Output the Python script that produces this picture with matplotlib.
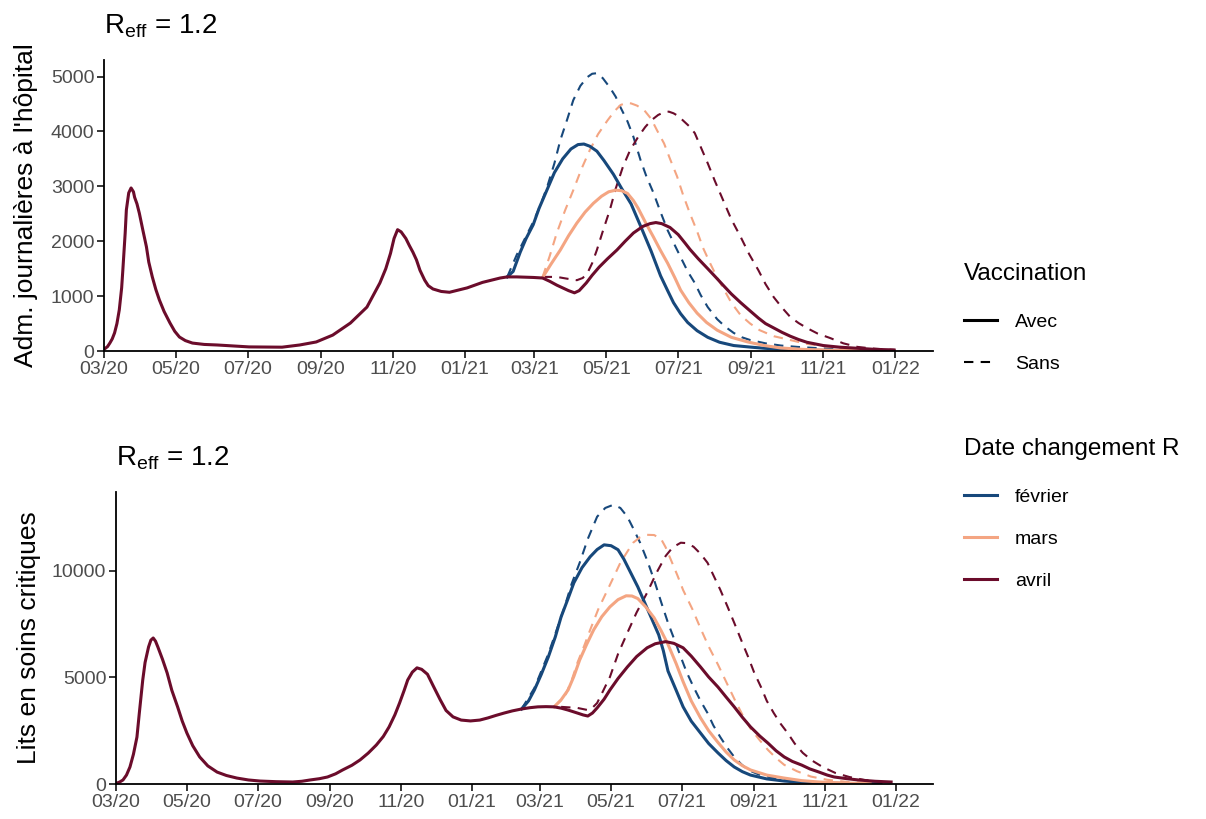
import matplotlib
matplotlib.use("Agg")
import matplotlib.dates as mdates
import numpy as np
from matplotlib import pyplot as plt
from matplotlib.lines import Line2D

plt.rcParams['font.family'] = ['Liberation Sans', 'DejaVu Sans']

# --- colours / labels -------------------------------------------------------
scenario_names 	= ['février', 'mars', 'avril']
scenario_colors = ['#17487b', '#f4a582', '#6b0c2b']
vaccin_labels 	= ['Avec', 'Sans']

# --- panel 1 : admissions journalières à l'hôpital ---------------------------
adm_avril_avec_dates = [
	'2020-03-01', '2020-03-04', '2020-03-06', '2020-03-08', '2020-03-10', '2020-03-12',
	'2020-03-14', '2020-03-16', '2020-03-17', '2020-03-19', '2020-03-20', '2020-03-22',
	'2020-03-24', '2020-03-26', '2020-03-27', '2020-03-29', '2020-03-31', '2020-04-03',
	'2020-04-06', '2020-04-08', '2020-04-11', '2020-04-14', '2020-04-17', '2020-04-21',
	'2020-04-26', '2020-04-30', '2020-05-04', '2020-05-09', '2020-05-15', '2020-05-25',
	'2020-06-05', '2020-07-02', '2020-07-30', '2020-08-14', '2020-08-28', '2020-09-11',
	'2020-09-26', '2020-10-10', '2020-10-21', '2020-10-26', '2020-10-30', '2020-11-02',
	'2020-11-05', '2020-11-08', '2020-11-12', '2020-11-15', '2020-11-18', '2020-11-21',
	'2020-11-24', '2020-11-28', '2020-12-01', '2020-12-05', '2020-12-12', '2020-12-19',
	'2021-01-03', '2021-01-16', '2021-01-31', '2021-02-06', '2021-02-14', '2021-02-28',
	'2021-03-08', '2021-03-14', '2021-03-20', '2021-03-25', '2021-03-30', '2021-04-04',
	'2021-04-08', '2021-04-14', '2021-04-19', '2021-04-25', '2021-05-02', '2021-05-10',
	'2021-05-17', '2021-05-24', '2021-06-01', '2021-06-07', '2021-06-12', '2021-06-17',
	'2021-06-24', '2021-07-01', '2021-07-07', '2021-07-11', '2021-07-18', '2021-07-26',
	'2021-08-02', '2021-08-08', '2021-08-15', '2021-08-23', '2021-08-31', '2021-09-07',
	'2021-09-13', '2021-09-20', '2021-09-27', '2021-10-04', '2021-10-11', '2021-10-18',
	'2021-11-01', '2021-11-15', '2021-11-30', '2021-12-15', '2021-12-31']
adm_avril_avec = [
	30, 80, 145, 220, 330, 500,
	750, 1150, 1470, 2150, 2570, 2880,
	2970, 2900, 2800, 2680, 2510, 2200,
	1900, 1620, 1350, 1120, 930, 720,
	510, 360, 255, 190, 145, 120,
	110, 75, 70, 110, 165, 290,
	510, 800, 1240, 1500, 1780, 2050,
	2210, 2170, 2050, 1920, 1800, 1660,
	1470, 1290, 1190, 1130, 1085, 1070,
	1150, 1250, 1330, 1350, 1350, 1340,
	1330, 1270, 1200, 1150, 1100, 1060,
	1100, 1240, 1380, 1530, 1680, 1840,
	2000, 2150, 2270, 2320, 2340, 2320,
	2250, 2120, 1960, 1850, 1680, 1500,
	1340, 1200, 1040, 880, 730, 600,
	500, 420, 340, 270, 210, 160,
	100, 70, 50, 30, 20]

adm_fev_avec_dates = [
	'2021-02-06', '2021-02-11', '2021-02-17', '2021-02-22', '2021-02-28', '2021-03-05',
	'2021-03-12', '2021-03-18', '2021-03-25', '2021-04-01', '2021-04-07', '2021-04-12',
	'2021-04-17', '2021-04-23', '2021-04-29', '2021-05-07', '2021-05-14', '2021-05-22',
	'2021-05-30', '2021-06-08', '2021-06-16', '2021-06-22', '2021-06-27', '2021-07-03',
	'2021-07-09', '2021-07-17', '2021-07-26', '2021-08-05', '2021-08-17', '2021-09-01',
	'2021-09-12', '2021-10-01', '2021-10-18', '2021-12-31']
adm_fev_avec = [
	1350, 1450, 1800, 2050, 2300, 2600,
	2950, 3250, 3500, 3680, 3760, 3770,
	3730, 3640, 3470, 3220, 2960, 2680,
	2280, 1820, 1370, 1100, 880, 680,
	520, 370, 250, 160, 100, 70,
	50, 25, 15, 3]

adm_mars_avec_dates = [
	'2021-03-08', '2021-03-15', '2021-03-23', '2021-03-30', '2021-04-06', '2021-04-13',
	'2021-04-20', '2021-04-27', '2021-05-03', '2021-05-09', '2021-05-14', '2021-05-19',
	'2021-05-24', '2021-05-28', '2021-06-03', '2021-06-10', '2021-06-16', '2021-06-22',
	'2021-06-28', '2021-07-03', '2021-07-10', '2021-07-17', '2021-07-25', '2021-08-03',
	'2021-08-15', '2021-08-29', '2021-09-12', '2021-09-26', '2021-10-15', '2021-11-07',
	'2021-12-31']
adm_mars_avec = [
	1340, 1580, 1840, 2100, 2330, 2530,
	2690, 2820, 2900, 2930, 2920, 2870,
	2740, 2600, 2350, 2075, 1830, 1600,
	1340, 1110, 880, 690, 520, 380,
	250, 165, 100, 55, 30, 15,
	3]

adm_fev_sans_dates = [
	'2021-02-06', '2021-02-14', '2021-02-21', '2021-02-28', '2021-03-06', '2021-03-12',
	'2021-03-18', '2021-03-23', '2021-03-29', '2021-04-03', '2021-04-09', '2021-04-15',
	'2021-04-19', '2021-04-23', '2021-04-28', '2021-05-04', '2021-05-09', '2021-05-13',
	'2021-05-19', '2021-05-24', '2021-05-30', '2021-06-04', '2021-06-10', '2021-06-16',
	'2021-06-22', '2021-06-28', '2021-07-03', '2021-07-09', '2021-07-15', '2021-07-20',
	'2021-07-26', '2021-08-03', '2021-08-10', '2021-08-17', '2021-08-24', '2021-08-31',
	'2021-09-13', '2021-09-26', '2021-10-10', '2021-10-29', '2021-11-20', '2021-12-28']
adm_fev_sans = [
	1350, 1750, 2050, 2350, 2650, 3000,
	3420, 3840, 4230, 4570, 4830, 4990,
	5050, 5060, 4970, 4800, 4630, 4440,
	4180, 3900, 3480, 3180, 2880, 2530,
	2200, 1930, 1710, 1450, 1240, 1020,
	800, 580, 440, 330, 250, 200,
	140, 100, 75, 50, 30, 15]

adm_mars_sans_dates = [
	'2021-03-08', '2021-03-14', '2021-03-20', '2021-03-27', '2021-04-03', '2021-04-10',
	'2021-04-17', '2021-04-24', '2021-05-02', '2021-05-08', '2021-05-13', '2021-05-18',
	'2021-05-22', '2021-05-27', '2021-06-02', '2021-06-08', '2021-06-13', '2021-06-19',
	'2021-06-24', '2021-06-30', '2021-07-05', '2021-07-11', '2021-07-17', '2021-07-22',
	'2021-07-28', '2021-08-02', '2021-08-08', '2021-08-15', '2021-08-23', '2021-08-31',
	'2021-09-08', '2021-09-20', '2021-10-04', '2021-10-18', '2021-11-01', '2021-11-15',
	'2021-12-02', '2022-01-01']
adm_mars_sans = [
	1350, 1730, 2150, 2560, 2930, 3320,
	3660, 3950, 4200, 4370, 4480, 4520,
	4510, 4470, 4390, 4230, 4020, 3780,
	3500, 3180, 2850, 2500, 2180, 1880,
	1600, 1380, 1150, 880, 650, 500,
	380, 270, 200, 130, 90, 60,
	35, 10]

adm_avril_sans_dates = [
	'2021-03-08', '2021-03-20', '2021-03-28', '2021-04-06', '2021-04-11', '2021-04-15',
	'2021-04-19', '2021-04-23', '2021-04-28', '2021-05-04', '2021-05-09', '2021-05-15',
	'2021-05-21', '2021-05-28', '2021-06-03', '2021-06-08', '2021-06-14', '2021-06-19',
	'2021-06-23', '2021-06-27', '2021-07-01', '2021-07-05', '2021-07-10', '2021-07-15',
	'2021-07-20', '2021-07-26', '2021-08-01', '2021-08-08', '2021-08-15', '2021-08-23',
	'2021-08-30', '2021-09-07', '2021-09-13', '2021-09-20', '2021-09-27', '2021-10-04',
	'2021-10-11', '2021-10-18', '2021-10-27', '2021-11-07', '2021-11-18', '2021-11-30',
	'2021-12-13', '2021-12-31']
adm_avril_sans = [
	1350, 1350, 1320, 1290, 1330, 1420,
	1600, 1840, 2180, 2570, 2960, 3350,
	3650, 3900, 4080, 4200, 4300, 4350,
	4360, 4330, 4280, 4200, 4100, 3970,
	3720, 3420, 3100, 2750, 2400, 2075,
	1770, 1470, 1220, 980, 790, 620,
	510, 420, 320, 235, 140, 75,
	45, 20]

# --- panel 2 : lits en soins critiques ---------------------------------------
lits_avril_avec_dates = [
	'2020-03-01', '2020-03-04', '2020-03-07', '2020-03-10', '2020-03-13', '2020-03-16',
	'2020-03-19', '2020-03-21', '2020-03-24', '2020-03-26', '2020-03-29', '2020-03-31',
	'2020-04-02', '2020-04-04', '2020-04-06', '2020-04-10', '2020-04-14', '2020-04-18',
	'2020-04-23', '2020-04-27', '2020-05-01', '2020-05-06', '2020-05-12', '2020-05-19',
	'2020-05-27', '2020-06-04', '2020-06-13', '2020-06-23', '2020-07-03', '2020-07-17',
	'2020-07-31', '2020-08-08', '2020-08-15', '2020-08-23', '2020-08-30', '2020-09-06',
	'2020-09-12', '2020-09-20', '2020-09-27', '2020-10-04', '2020-10-11', '2020-10-17',
	'2020-10-22', '2020-10-27', '2020-10-31', '2020-11-04', '2020-11-07', '2020-11-11',
	'2020-11-15', '2020-11-19', '2020-11-24', '2020-11-29', '2020-12-05', '2020-12-10',
	'2020-12-16', '2020-12-23', '2020-12-31', '2021-01-08', '2021-01-15', '2021-01-22',
	'2021-01-29', '2021-02-05', '2021-02-13', '2021-02-20', '2021-02-27', '2021-03-06',
	'2021-03-13', '2021-03-19', '2021-03-25', '2021-04-02', '2021-04-07', '2021-04-11',
	'2021-04-15', '2021-04-19', '2021-04-25', '2021-04-30', '2021-05-07', '2021-05-15',
	'2021-05-23', '2021-06-01', '2021-06-08', '2021-06-17', '2021-06-24', '2021-07-02',
	'2021-07-09', '2021-07-17', '2021-07-24', '2021-08-01', '2021-08-08', '2021-08-15',
	'2021-08-22', '2021-08-29', '2021-09-06', '2021-09-13', '2021-09-20', '2021-09-27',
	'2021-10-04', '2021-10-12', '2021-10-19', '2021-10-27', '2021-11-03', '2021-11-09',
	'2021-11-20', '2021-11-30', '2021-12-14', '2021-12-28']
lits_avril_avec = [
	30, 90, 190, 420, 800, 1400,
	2200, 3300, 4880, 5700, 6430, 6750,
	6850, 6700, 6430, 5850, 5210, 4400,
	3620, 2950, 2390, 1800, 1270, 850,
	560, 400, 280, 190, 140, 110,
	95, 130, 190, 250, 330, 480,
	660, 880, 1130, 1450, 1830, 2230,
	2680, 3250, 3800, 4400, 4880, 5250,
	5450, 5380, 5150, 4600, 3950, 3450,
	3150, 3000, 2960, 3000, 3100, 3220,
	3330, 3430, 3520, 3580, 3620, 3630,
	3620, 3560, 3470, 3330, 3240, 3190,
	3330, 3570, 3980, 4410, 4950, 5490,
	5980, 6390, 6580, 6680, 6600, 6390,
	6000, 5490, 5020, 4550, 4080, 3620,
	3130, 2680, 2250, 1920, 1560, 1270,
	1060, 890, 710, 560, 420, 330,
	250, 190, 130, 95]

lits_fev_avec_dates = [
	'2021-02-13', '2021-02-19', '2021-02-24', '2021-03-02', '2021-03-08', '2021-03-14',
	'2021-03-19', '2021-03-25', '2021-03-30', '2021-04-06', '2021-04-13', '2021-04-19',
	'2021-04-25', '2021-05-01', '2021-05-07', '2021-05-12', '2021-05-18', '2021-05-24',
	'2021-05-30', '2021-06-05', '2021-06-11', '2021-06-15', '2021-06-19', '2021-06-26',
	'2021-07-02', '2021-07-09', '2021-07-17', '2021-07-24', '2021-08-01', '2021-08-08',
	'2021-08-15', '2021-08-22', '2021-08-29', '2021-09-12', '2021-09-27', '2021-10-12',
	'2021-10-27', '2021-11-20', '2021-12-19']
lits_fev_avec = [
	3520, 3900, 4410, 5150, 5960, 6900,
	7840, 8700, 9440, 10150, 10660, 11000,
	11220, 11180, 10990, 10550, 9900, 9250,
	8500, 7750, 7000, 6250, 5300, 4400,
	3620, 2950, 2390, 1900, 1460, 1100,
	800, 580, 420, 240, 140, 80,
	50, 25, 10]

lits_mars_avec_dates = [
	'2021-03-13', '2021-03-19', '2021-03-25', '2021-03-30', '2021-04-04', '2021-04-10',
	'2021-04-16', '2021-04-23', '2021-04-30', '2021-05-07', '2021-05-14', '2021-05-19',
	'2021-05-24', '2021-05-31', '2021-06-07', '2021-06-13', '2021-06-19', '2021-06-26',
	'2021-07-02', '2021-07-09', '2021-07-17', '2021-07-24', '2021-08-01', '2021-08-08',
	'2021-08-15', '2021-08-22', '2021-08-29', '2021-09-12', '2021-09-27', '2021-10-12',
	'2021-10-27', '2021-11-20', '2021-12-10']
lits_mars_avec = [
	3620, 3950, 4410, 5050, 5820, 6550,
	7230, 7850, 8310, 8650, 8830, 8820,
	8700, 8300, 7800, 7200, 6550, 5650,
	4800, 3900, 3100, 2500, 1950, 1500,
	1130, 860, 660, 420, 280, 160,
	95, 45, 20]

lits_fev_sans_dates = [
	'2021-02-13', '2021-02-24', '2021-03-08', '2021-03-15', '2021-03-22', '2021-03-28',
	'2021-04-04', '2021-04-11', '2021-04-19', '2021-04-26', '2021-05-03', '2021-05-09',
	'2021-05-15', '2021-05-20', '2021-05-26', '2021-06-01', '2021-06-07', '2021-06-13',
	'2021-06-19', '2021-06-25', '2021-06-30', '2021-07-05', '2021-07-11', '2021-07-17',
	'2021-07-23', '2021-07-28', '2021-08-03', '2021-08-09', '2021-08-15', '2021-08-21',
	'2021-08-27', '2021-09-05', '2021-09-18', '2021-10-01', '2021-10-17', '2021-11-10',
	'2021-12-10']
lits_fev_sans = [
	3520, 4500, 6100, 7200, 8310, 9380,
	10380, 11500, 12540, 12950, 13100, 12950,
	12540, 12000, 11320, 10500, 9580, 8550,
	7560, 6700, 5960, 5250, 4550, 3900,
	3330, 2750, 2200, 1700, 1270, 930,
	660, 450, 280, 170, 95, 40,
	15]

lits_mars_sans_dates = [
	'2021-03-13', '2021-03-22', '2021-03-28', '2021-04-02', '2021-04-08', '2021-04-13',
	'2021-04-20', '2021-04-28', '2021-05-04', '2021-05-09', '2021-05-15', '2021-05-20',
	'2021-05-26', '2021-06-01', '2021-06-07', '2021-06-13', '2021-06-17', '2021-06-22',
	'2021-06-27', '2021-07-02', '2021-07-10', '2021-07-17', '2021-07-24', '2021-08-01',
	'2021-08-08', '2021-08-15', '2021-08-22', '2021-08-29', '2021-09-06', '2021-09-13',
	'2021-09-20', '2021-09-27', '2021-10-08', '2021-10-20', '2021-11-03', '2021-11-20',
	'2021-12-28']
lits_mars_sans = [
	3620, 4080, 4850, 5680, 6500, 7230,
	8200, 9110, 9800, 10380, 10900, 11320,
	11580, 11690, 11680, 11500, 11100, 10450,
	9800, 9100, 8200, 7300, 6450, 5600,
	4800, 4000, 3250, 2600, 2050, 1600,
	1220, 900, 600, 350, 200, 100,
	15]

lits_avril_sans_dates = [
	'2021-03-19', '2021-04-02', '2021-04-11', '2021-04-15', '2021-04-19', '2021-04-24',
	'2021-04-30', '2021-05-07', '2021-05-15', '2021-05-23', '2021-06-01', '2021-06-06',
	'2021-06-10', '2021-06-17', '2021-06-23', '2021-06-30', '2021-07-05', '2021-07-11',
	'2021-07-17', '2021-07-23', '2021-07-28', '2021-08-03', '2021-08-09', '2021-08-15',
	'2021-08-21', '2021-08-27', '2021-09-01', '2021-09-07', '2021-09-12', '2021-09-18',
	'2021-09-24', '2021-09-30', '2021-10-06', '2021-10-13', '2021-10-21', '2021-10-30',
	'2021-11-10', '2021-11-22', '2021-12-05', '2021-12-21']
lits_avril_sans = [
	3620, 3570, 3470, 3580, 3800, 4350,
	5020, 6100, 7090, 8050, 8970, 9550,
	10000, 10700, 11100, 11320, 11300, 11130,
	10800, 10380, 9800, 9110, 8350, 7560,
	6750, 5960, 5250, 4550, 3900, 3330,
	2820, 2390, 1900, 1460, 1100, 800,
	520, 330, 190, 95]

panels = [
	{
		'ylabel': "Adm. journalières à l'hôpital",
		'yticks': [0, 1000, 2000, 3000, 4000, 5000],
		'ymax': 5300,
		'pos': [0.0862, 0.5714, 0.6874, 0.3553],
		'labelpad': 9,
		'avec': [(adm_fev_avec_dates, adm_fev_avec), (adm_mars_avec_dates, adm_mars_avec),
				 (adm_avril_avec_dates, adm_avril_avec)],
		'sans': [(adm_fev_sans_dates, adm_fev_sans), (adm_mars_sans_dates, adm_mars_sans),
				 (adm_avril_sans_dates, adm_avril_sans)],
	},
	{
		'ylabel': "Lits en soins critiques",
		'yticks': [0, 5000, 10000],
		'ymax': 13700,
		'pos': [0.0962, 0.0427, 0.6774, 0.3566],
		'labelpad': 8,
		'avec': [(lits_fev_avec_dates, lits_fev_avec), (lits_mars_avec_dates, lits_mars_avec),
				 (lits_avril_avec_dates, lits_avril_avec)],
		'sans': [(lits_fev_sans_dates, lits_fev_sans), (lits_mars_sans_dates, lits_mars_sans),
				 (lits_avril_sans_dates, lits_avril_sans)],
	},
]

fig = plt.figure(figsize=(12.06, 8.19), dpi=100)

for p in panels:
	ax = fig.add_axes(p['pos'])
	for (d, v), col in zip(p['sans'], scenario_colors):
		ax.plot(np.array(d, dtype='datetime64[D]'), v, color=col, lw=1.5,
				ls=(0, (4.5, 3.5)), solid_joinstyle='round')
	for (d, v), col in zip(p['avec'], scenario_colors):
		ax.plot(np.array(d, dtype='datetime64[D]'), v, color=col, lw=2.2,
				solid_joinstyle='round')

	ax.set_xlim(np.datetime64('2020-03-01'), np.datetime64('2022-02-02'))
	ax.set_ylim(0, p['ymax'])
	ax.set_yticks(p['yticks'])
	ax.xaxis.set_major_locator(mdates.MonthLocator(bymonth=[1, 3, 5, 7, 9, 11]))
	ax.xaxis.set_major_formatter(mdates.DateFormatter('%m/%y'))
	for s in ['top', 'right']:
		ax.spines[s].set_visible(False)
	for s in ['left', 'bottom']:
		ax.spines[s].set_linewidth(1.3)
	ax.tick_params(length=5, width=1.1, labelsize=14, labelcolor='#4d4d4d', pad=2)
	ax.set_ylabel(p['ylabel'], fontsize=19, labelpad=p['labelpad'])
	ax.set_title(r'$\mathregular{R_{eff}}$ = 1.2', loc='left', fontsize=20, pad=19)

# legends
vac_handles = [Line2D([], [], color='black', lw=2.2),
			   Line2D([], [], color='black', lw=1.5, ls=(0, (4.5, 3.5)))]
leg1 = fig.legend(vac_handles, vaccin_labels, title='Vaccination', loc='upper left',
				  bbox_to_anchor=(0.785, 0.700), frameon=False, fontsize=14,
				  title_fontsize=17.5, handlelength=1.7, labelspacing=1.25,
				  alignment='left', handletextpad=0.9)
sc_handles = [Line2D([], [], color=c, lw=2.2) for c in scenario_colors]
leg2 = fig.legend(sc_handles, scenario_names, title='Date changement R', loc='upper left',
				  bbox_to_anchor=(0.785, 0.486), frameon=False, fontsize=14,
				  title_fontsize=17.5, handlelength=1.7, labelspacing=1.25,
				  alignment='left', handletextpad=0.9)
# a bit more room between each legend title and its keys
for leg in (leg1, leg2):
	leg._legend_box.sep += 2.5

fig.savefig('out.png', dpi=100)
